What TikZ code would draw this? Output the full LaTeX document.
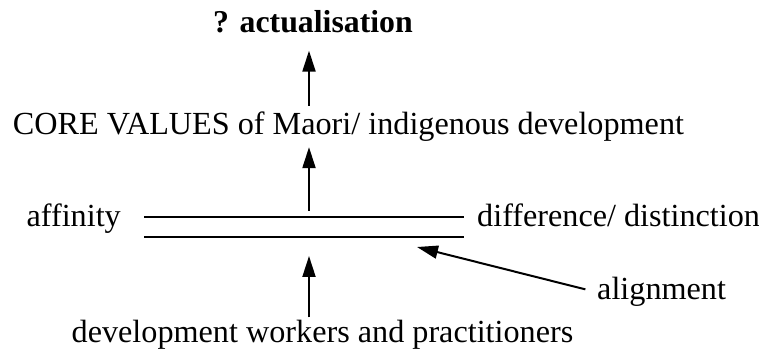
\documentclass[tikz,border=0pt]{standalone}
\usepackage{fontspec}
\setmainfont{Liberation Serif}
\usetikzlibrary{positioning, arrows.meta}

\begin{document}
\begin{tikzpicture}[x=1pt, y=1pt,
  label/.style={font=\fontsize{32.2}{36}\selectfont, inner sep=0},
  arrow/.style={line width=2pt, -{Triangle[length=21pt, width=13pt]}},
  bar/.style={line width=2pt}]
  \useasboundingbox (0,0) rectangle (759,352);

  \node[label, anchor=base, font=\fontsize{31.8}{36}\selectfont\bfseries] (actual) at (313,319) {? actualisation};
  \node[label, anchor=base] (core) at (348.5,217) {CORE VALUES of Maori/ indigenous development};
  \node[label, anchor=base east] (affinity) at (121,125) {affinity};
  \node[label, anchor=base west] (difference) at (477,125) {difference/ distinction};
  \node[label, anchor=base west] (alignment) at (597,52) {alignment};
  \node[label, anchor=base] (workers) at (322.5,9) {development workers and practitioners};

  \coordinate (upperL) at (144,135); \coordinate (upperR) at (464,135);
  \coordinate (lowerL) at (144,115); \coordinate (lowerR) at (464,115);
  \coordinate (mid) at (309,0);
  \coordinate (alignTip) at (417,105);

  \draw[bar] (upperL) -- (upperR);
  \draw[bar] (lowerL) -- (lowerR);

  \draw[arrow, shorten <=6.5pt, shorten >=17pt] (core.north -| mid) -- (actual.south -| mid);
  \draw[arrow, shorten <=6pt, shorten >=5pt] (upperL -| mid) -- (core.south -| mid);
  \draw[arrow, shorten <=3pt, shorten >=19pt] (workers.north -| mid) -- (lowerL -| mid);
  \draw[arrow, shorten <=12pt] (alignment.west) -- (alignTip);
\end{tikzpicture}
\end{document}
